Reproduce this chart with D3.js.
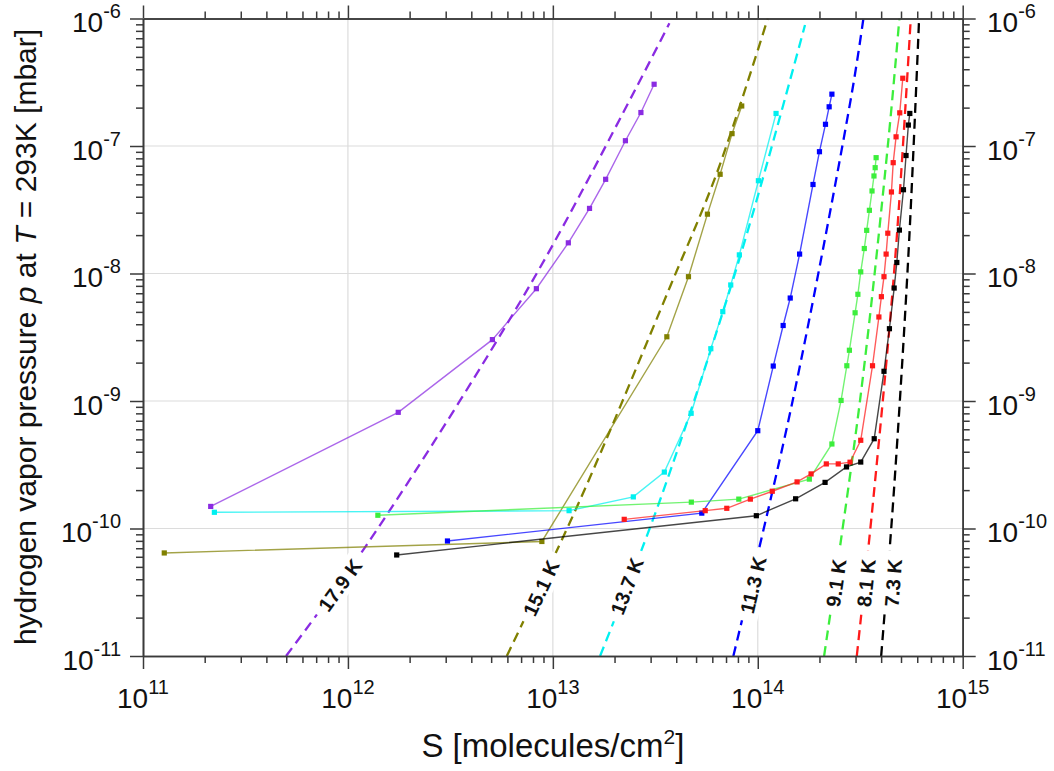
<!DOCTYPE html>
<html>
<head>
<meta charset="utf-8">
<script src="https://cdn.jsdelivr.net/npm/d3@7"></script>
<style>
  html, body { margin: 0; padding: 0; background: #fff; }
  svg { display: block; font-family: "Liberation Sans", Arial, Helvetica, sans-serif; }
</style>
</head>
<body>
<svg id="chart" width="1054" height="771"></svg>
<script>
// ---------------- data ----------------
// Measured isotherms: surface coverage S [molecules/cm^2] vs. H2 vapour pressure p [mbar]
const temperatures = ["17.9 K", "15.1 K", "13.7 K", "11.3 K", "9.1 K", "8.1 K", "7.3 K"];
const seriesColors = ["#8a2be2", "#808000", "#00f0f0", "#0000ff", "#3cee3c", "#ff1a1a", "#000000"];

const coverage179 = [2.14e11, 1.76e12, 5.07e12, 8.31e12, 1.19e13, 1.51e13, 1.81e13, 2.26e13, 2.69e13, 3.12e13];
const pressure179 = [1.49e-10, 8.15e-10, 3.03e-9, 7.60e-9, 1.74e-8, 3.24e-8, 5.48e-8, 1.10e-7, 1.83e-7, 3.05e-7];

const coverage151 = [1.27e11, 8.84e12, 3.60e13, 4.59e13, 5.68e13, 6.55e13, 7.49e13, 8.35e13];
const pressure151 = [6.43e-11, 7.91e-11, 3.19e-9, 9.44e-9, 2.92e-8, 6.00e-8, 1.25e-7, 2.06e-7];

const coverage137 = [2.23e11, 1.20e13, 2.47e13, 3.50e13, 4.73e13, 5.90e13, 6.75e13, 7.38e13, 8.13e13, 1.007e14, 1.228e14];
const pressure137 = [1.34e-10, 1.38e-10, 1.77e-10, 2.77e-10, 8.01e-10, 2.57e-9, 5.02e-9, 8.13e-9, 1.40e-8, 5.34e-8, 1.80e-7];

const coverage113 = [3.06e12, 5.33e13, 1.00e14, 1.19e14, 1.33e14, 1.44e14, 1.60e14, 1.86e14, 2.00e14, 2.14e14, 2.23e14, 2.30e14];
const pressure113 = [7.98e-11, 1.32e-10, 5.85e-10, 1.88e-9, 3.91e-9, 6.42e-9, 1.42e-8, 4.99e-8, 9.02e-8, 1.48e-7, 2.03e-7, 2.55e-7];

const coverage91 = [1.40e12, 4.74e13, 8.08e13, 1.785e14, 2.30e14, 2.55e14, 2.72e14, 2.80e14, 2.985e14, 3.08e14, 3.18e14, 3.31e14, 3.40e14, 3.505e14, 3.61e14, 3.69e14, 3.74e14, 3.78e14];
const pressure91 = [1.27e-10, 1.61e-10, 1.70e-10, 2.44e-10, 4.60e-10, 1.01e-9, 1.89e-9, 2.50e-9, 4.92e-9, 6.87e-9, 1.03e-8, 1.57e-8, 2.18e-8, 3.13e-8, 4.44e-8, 5.82e-8, 6.76e-8, 8.10e-8];

const coverage81 = [2.23e13, 5.54e13, 7.06e13, 9.20e13, 1.177e14, 1.555e14, 1.82e14, 2.16e14, 2.47e14, 2.82e14, 3.18e14, 3.63e14, 3.90e14, 4.01e14, 4.13e14, 4.23e14, 4.31e14, 4.49e14, 4.58e14, 4.73e14, 4.93e14, 5.10e14];
const pressure81 = [1.18e-10, 1.38e-10, 1.44e-10, 1.70e-10, 1.96e-10, 2.32e-10, 2.68e-10, 3.21e-10, 3.21e-10, 3.31e-10, 4.92e-10, 1.89e-9, 4.56e-9, 6.58e-9, 9.44e-9, 1.42e-8, 2.07e-8, 4.36e-8, 7.40e-8, 1.18e-7, 1.82e-7, 3.40e-7];

const coverage73 = [1.73e12, 9.84e13, 1.53e14, 2.13e14, 2.71e14, 3.18e14, 3.70e14, 4.13e14, 4.39e14, 4.63e14, 4.77e14, 4.91e14, 5.14e14, 5.29e14, 5.43e14, 5.52e14];
const pressure73 = [6.20e-11, 1.26e-10, 1.71e-10, 2.30e-10, 3.04e-10, 3.32e-10, 5.06e-10, 1.71e-9, 3.69e-9, 7.69e-9, 1.22e-8, 2.19e-8, 4.54e-8, 8.42e-8, 1.46e-7, 1.80e-7];

// Model isotherms (dashed)
const model179S = [4.99e11, 1.282e12, 7.74e12, 2.518e13, 3.704e13];
const model179P = [1e-11, 8.13e-11, 8.13e-9, 2.75e-7, 9.17e-7];
const model151S = [5.96e12, 1.357e13, 3.733e13, 6.307e13, 1.119e14];
const model151P = [1e-11, 1.673e-10, 7.88e-9, 6.11e-8, 1e-6];
const model137S = [1.70e13, 3.336e13, 8.195e13, 1.70e14];
const model137P = [1e-11, 1.673e-10, 1.354e-8, 8.89e-7];
const model113S = [7.60e13, 1.465e14, 2.876e14, 3.277e14];
const model113P = [1e-11, 9.30e-10, 2.59e-7, 1e-6];
const model91S = [2.107e14, 3.157e14, 4.339e14, 4.909e14];
const model91P = [1e-11, 1.018e-9, 1.114e-7, 1e-6];
const model81S = [3.042e14, 3.666e14, 4.677e14, 5.58e14];
const model81P = [1e-11, 1.725e-10, 1.276e-8, 1e-6];
const model73S = [4.00e14, 4.59e14, 5.433e14, 6.127e14];
const model73P = [1e-11, 1.725e-10, 1.397e-8, 1e-6];

// Where each temperature label sits on its model curve
const labelS = [9.15e11, 8.76e12, 2.30e13, 9.49e13, 2.41e14, 3.378e14, 4.575e14];
const labelP = [3.6e-11, 3.41e-11, 3.53e-11, 3.6e-11, 3.74e-11, 3.74e-11, 3.74e-11];

// Axis decades
const xTickExponents = [11, 12, 13, 14, 15];
const yTickExponents = [-11, -10, -9, -8, -7, -6];

// ---------------- build ----------------
const measured = [
  [coverage179, pressure179], [coverage151, pressure151], [coverage137, pressure137],
  [coverage113, pressure113], [coverage91, pressure91], [coverage81, pressure81], [coverage73, pressure73]
];
const models = [
  [model179S, model179P], [model151S, model151P], [model137S, model137P],
  [model113S, model113P], [model91S, model91P], [model81S, model81P], [model73S, model73P]
];
const zip = (s, p) => s.map((v, i) => ({ s: v, p: p[i] }));

const svg = d3.select("#chart");
const plot = { left: 143, right: 962.7, top: 18.5, bottom: 656 };

const x = d3.scaleLog().domain([1e11, 1e15]).range([plot.left, plot.right]);
const y = d3.scaleLog().domain([1e-11, 1e-6]).range([plot.bottom, plot.top]);

const xMajor = xTickExponents.map(e => Math.pow(10, e));
const yMajor = yTickExponents.map(e => Math.pow(10, e));
const xMinor = [], yMinor = [];
xTickExponents.slice(0, -1).forEach(e => { for (let m = 2; m <= 9; m++) xMinor.push(m * Math.pow(10, e)); });
yTickExponents.slice(0, -1).forEach(e => { for (let m = 2; m <= 9; m++) yMinor.push(m * Math.pow(10, e)); });

// grid
const grid = svg.append("g").attr("stroke", "#dcdcdc").attr("stroke-width", 1.2);
grid.selectAll("line.gx").data(xMajor.slice(1, -1)).join("line")
  .attr("x1", d => x(d)).attr("x2", d => x(d)).attr("y1", plot.top).attr("y2", plot.bottom);
grid.selectAll("line.gy").data(yMajor.slice(1, -1)).join("line")
  .attr("y1", d => y(d)).attr("y2", d => y(d)).attr("x1", plot.left).attr("x2", plot.right);

// model curves (dashed)
const modelLine = d3.line().x(d => x(d.s)).y(d => y(d.p)).curve(d3.curveCatmullRom.alpha(0.5));
const dashG = svg.append("g");
models.forEach((m, i) => {
  dashG.append("path")
    .attr("d", modelLine(zip(m[0], m[1])))
    .attr("fill", "none")
    .attr("stroke", seriesColors[i])
    .attr("stroke-width", 2.3)
    .attr("stroke-dasharray", "10,6");
});

// temperature labels along the model curves
const labelG = svg.append("g");
temperatures.forEach((t, i) => {
  const pts = zip(models[i][0], models[i][1]);
  // local direction of the curve at the label height
  let k = 0;
  while (k < pts.length - 2 && pts[k + 1].p < labelP[i]) k++;
  const ang = Math.atan2(y(pts[k + 1].p) - y(pts[k].p), x(pts[k + 1].s) - x(pts[k].s)) * 180 / Math.PI;
  const g = labelG.append("g")
    .attr("transform", `translate(${x(labelS[i])},${y(labelP[i])}) rotate(${ang})`);
  const txt = g.append("text")
    .attr("text-anchor", "middle")
    .attr("dy", "0.36em")
    .attr("font-size", 20)
    .attr("font-weight", "bold")
    .attr("fill", "#111")
    .text(t);
  const bb = txt.node().getBBox();
  g.insert("rect", "text")
    .attr("x", bb.x - 8).attr("y", bb.y - 1)
    .attr("width", bb.width + 16).attr("height", bb.height + 2)
    .attr("fill", "#fff");
});

// measured isotherms
const dataLine = d3.line().x(d => x(d.s)).y(d => y(d.p));
const seriesG = svg.append("g");
measured.forEach((m, i) => {
  const pts = zip(m[0], m[1]);
  const g = seriesG.append("g");
  g.append("path")
    .attr("d", dataLine(pts))
    .attr("fill", "none")
    .attr("stroke", seriesColors[i])
    .attr("stroke-opacity", 0.72)
    .attr("stroke-width", 1.4);
  g.selectAll("rect").data(pts).join("rect")
    .attr("x", d => x(d.s) - 2.6).attr("y", d => y(d.p) - 2.6)
    .attr("width", 5.2).attr("height", 5.2)
    .attr("fill", seriesColors[i]);
});

// axes (all four sides, ticks pointing outward)
const axisColor = "#3a3a3a";
function styleAxis(g) {
  g.selectAll("path.domain").attr("stroke", axisColor).attr("stroke-width", 1.6);
  g.selectAll(".tick line").attr("stroke", axisColor).attr("stroke-width", 1.5);
  g.selectAll(".tick text").remove();
}
function addAxis(gen, scale, major, minor, transform) {
  svg.append("g").attr("transform", transform)
    .call(gen(scale).tickValues(minor).tickSize(7).tickSizeOuter(0).tickFormat(""))
    .call(styleAxis);
  svg.append("g").attr("transform", transform)
    .call(gen(scale).tickValues(major).tickSize(13).tickSizeOuter(0).tickFormat(""))
    .call(styleAxis);
}
addAxis(d3.axisBottom, x, xMajor, xMinor, `translate(0,${plot.bottom})`);
addAxis(d3.axisTop, x, xMajor, xMinor, `translate(0,${plot.top})`);
addAxis(d3.axisLeft, y, yMajor, yMinor, `translate(${plot.left},0)`);
addAxis(d3.axisRight, y, yMajor, yMinor, `translate(${plot.right},0)`);

// tick labels written as powers of ten
function powerLabel(sel, exp) {
  sel.append("tspan").attr("font-size", 28).text("10");
  sel.append("tspan").attr("font-size", 20).attr("dy", -14).text(String(exp));
}
xTickExponents.forEach(e => {
  svg.append("text")
    .attr("x", x(Math.pow(10, e))).attr("y", 708)
    .attr("text-anchor", "middle").attr("fill", "#111")
    .call(powerLabel, e);
});
yTickExponents.forEach(e => {
  const yy = y(Math.pow(10, e)) + 13.5;
  svg.append("text")
    .attr("x", 121).attr("y", yy)
    .attr("text-anchor", "end").attr("fill", "#111")
    .call(powerLabel, e);
  svg.append("text")
    .attr("x", 987).attr("y", yy)
    .attr("text-anchor", "start").attr("fill", "#111")
    .call(powerLabel, e);
});

// axis titles
const xTitle = svg.append("text")
  .attr("x", (plot.left + plot.right) / 2).attr("y", 757)
  .attr("text-anchor", "middle").attr("font-size", 33).attr("fill", "#111");
xTitle.append("tspan").text("S [molecules/cm");
xTitle.append("tspan").attr("font-size", 21).attr("dy", -13).text("2");
xTitle.append("tspan").attr("dy", 13).text("]");

const yTitle = svg.append("text")
  .attr("transform", "translate(36,337) rotate(-90)")
  .attr("text-anchor", "middle").attr("font-size", 30).attr("fill", "#111");
yTitle.append("tspan").text("hydrogen vapor pressure ");
yTitle.append("tspan").attr("font-style", "italic").text("p");
yTitle.append("tspan").text(" at ");
yTitle.append("tspan").attr("font-style", "italic").text("T");
yTitle.append("tspan").text(" = 293K [mbar]");
</script>
</body>
</html>
